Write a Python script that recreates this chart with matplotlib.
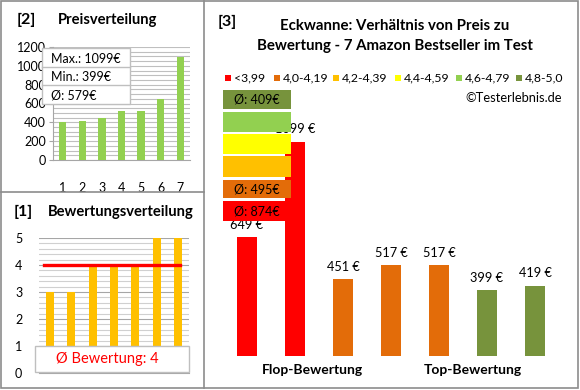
import matplotlib
matplotlib.use("Agg")
import matplotlib.pyplot as plt
from matplotlib.patches import Rectangle
from matplotlib.lines import Line2D
from matplotlib.ticker import MultipleLocator

plt.rcParams['font.family'] = ['Lato', 'DejaVu Sans']

# --- Daten ---
preise = [399, 419, 451, 517, 517, 649, 1099]
preis_labels = ["1", "2", "3", "4", "5", "6", "7"]
preis_info = ["Max.: 1099€", "Min.: 399€", "Ø: 579€"]

bewertungen = [3, 3, 4, 4, 4, 5, 5]
bewertung_schnitt = 4

haupt_preise = [649, 1099, 451, 517, 517, 399, 419]
haupt_farben = ["#FF0000", "#FF0000", "#E36C09", "#E36C09", "#E36C09", "#77933C", "#77933C"]
haupt_gruppen = ["Flop-Bewertung", "Top-Bewertung"]

legende_labels = ["<3,99", "4,0-4,19", "4,2-4,39", "4,4-4,59", "4,6-4,79", "4,8-5,0"]
legende_farben = ["#FF0000", "#E36C09", "#FFC000", "#FFFF00", "#92D050", "#77933C"]
schnitt_texte = ["Ø: 874€", "Ø: 495€", "", "", "", "Ø: 409€"]

W, H = 580, 390
fig = plt.figure(figsize=(W / 100, H / 100), dpi=100)


def fx(x):
    return x / W


def fy(y):
    return 1 - y / H


def box(x0, y0, x1, y1):
    return [fx(x0), fy(y1), fx(x1) - fx(x0), fy(y0) - fy(y1)]


grau = "#A6A6A6"

# Rahmen
fig.patches.append(Rectangle((fx(1), fy(388)), fx(577), fy(1) - fy(388), transform=fig.transFigure,
                             fill=False, edgecolor="#8C8C8C", lw=1.2))
fig.lines.append(Line2D([fx(204), fx(204)], [fy(1), fy(388)], transform=fig.transFigure, color="#8C8C8C", lw=1.2))
fig.lines.append(Line2D([fx(1), fx(204)], [fy(192), fy(192)], transform=fig.transFigure, color="#8C8C8C", lw=1.2))

# === [2] Preisverteilung ===
fig.text(fx(17), fy(20), "[2]", fontsize=11.5, fontweight="bold", va="center", ha="left")
fig.text(fx(58), fy(20), "Preisverteilung", fontsize=10.6, fontweight="bold", va="center", ha="left")

ax1 = fig.add_axes(box(53, 47, 190, 160))
x = list(range(1, 8))
ax1.bar(x, preise, width=0.37, color="#92D050", zorder=3)
ax1.set_xlim(0.5, 7.5)
ax1.set_ylim(0, 1200)
ax1.yaxis.set_major_locator(MultipleLocator(200))
ax1.yaxis.set_minor_locator(MultipleLocator(50))
ax1.grid(axis="y", which="both", color="#BFBFBF", lw=0.8, zorder=0)
ax1.set_xticks(x)
ax1.set_xticklabels(preis_labels)
ax1.tick_params(axis="x", length=0, pad=16, labelsize=9)
ax1.tick_params(axis="y", which="major", length=3, color=grau, labelsize=9, pad=2)
ax1.tick_params(axis="y", which="minor", length=0)
for s in ["top", "right"]:
    ax1.spines[s].set_visible(False)
for s in ["left", "bottom"]:
    ax1.spines[s].set_color(grau)

# Info-Box
fig.patches.append(Rectangle((fx(42), fy(104)), fx(130) - fx(42), fy(48) - fy(104), transform=fig.transFigure,
                             facecolor="white", edgecolor="#BFBFBF", lw=1, zorder=5))
for yy in [67, 85]:
    fig.lines.append(Line2D([fx(42), fx(130)], [fy(yy), fy(yy)], transform=fig.transFigure,
                            color="#BFBFBF", lw=1, zorder=6))
for t, yy in zip(preis_info, [59, 77, 95]):
    fig.text(fx(51), fy(yy), t, fontsize=9, va="center", ha="left", zorder=7)

# === [1] Bewertungsverteilung ===
fig.text(fx(14), fy(212), "[1]", fontsize=11.5, fontweight="bold", va="center", ha="left")
fig.text(fx(48), fy(212), "Bewertungsverteilung", fontsize=10.6, fontweight="bold", va="center", ha="left")

ax2 = fig.add_axes(box(39, 238, 189, 373))
ax2.bar(x, bewertungen, width=0.37, color="#FFC000", zorder=3)
ax2.plot([0.75, 7.1], [bewertung_schnitt, bewertung_schnitt], color="#FF0000", lw=2.4, zorder=4)
ax2.set_xlim(0.5, 7.5)
ax2.set_ylim(0, 5)
ax2.yaxis.set_major_locator(MultipleLocator(1))
ax2.yaxis.set_minor_locator(MultipleLocator(0.2))
ax2.grid(axis="y", which="minor", color="#D0D0D0", lw=0.8, zorder=0)
ax2.grid(axis="y", which="major", color="#A6A6A6", lw=0.8, zorder=1)
ax2.set_xticks([])
ax2.tick_params(axis="y", which="major", length=0, labelsize=9, pad=12)
ax2.tick_params(axis="y", which="minor", length=0)
for s in ["top", "right", "left"]:
    ax2.spines[s].set_visible(False)
ax2.spines["bottom"].set_color(grau)
ax2.add_patch(Rectangle((0.3, 0.05), 7.2, 0.95, facecolor="white", edgecolor="#BFBFBF", lw=1,
                        zorder=5, clip_on=False))
ax2.text(3.7, 0.52, "Ø Bewertung: " + str(bewertung_schnitt), color="#FF0000", fontsize=10.5,
         ha="center", va="center", zorder=6)

# === [3] Hauptdiagramm ===
fig.text(fx(218), fy(22), "[3]", fontsize=11.5, fontweight="bold", va="center", ha="left")
fig.text(fx(395), fy(26), "Eckwanne: Verhältnis von Preis zu", fontsize=10.8, fontweight="bold",
         va="center", ha="center")
fig.text(fx(395), fy(46), "Bewertung - 7 Amazon Bestseller im Test", fontsize=10.8, fontweight="bold",
         va="center", ha="center")

ax3 = fig.add_axes(box(223, 90, 559, 356))
pos = list(range(7))
bars = ax3.bar(pos, haupt_preise, width=0.4, color=haupt_farben, zorder=3)
ax3.set_xlim(-0.5, 6.5)
ax3.set_ylim(88, 1343)
for b, v in zip(bars, haupt_preise):
    ax3.annotate(f"{v} €", (b.get_x() + b.get_width() / 2, v), xytext=(0, 9),
                 textcoords="offset points", ha="center", va="center", fontsize=9.2)
ax3.axis("off")

fig.text(fx(312), fy(370), haupt_gruppen[0], fontsize=10, fontweight="bold", ha="center", va="center")
fig.text(fx(473), fy(370), haupt_gruppen[1], fontsize=10, fontweight="bold", ha="center", va="center")

# Legende oben
quad_x = [228, 277, 336, 398, 459, 519]
for qx, lab, col in zip(quad_x, legende_labels, legende_farben):
    fig.patches.append(Rectangle((fx(qx - 3), fy(81)), fx(6), fy(75) - fy(81), transform=fig.transFigure,
                                 facecolor=col, edgecolor="none"))
    fig.text(fx(qx + 6), fy(78), lab, fontsize=8.8, ha="left", va="center")

fig.text(fx(562), fy(98), "©Testerlebnis.de", fontsize=9.3, ha="right", va="center")

# Durchschnitts-Kaesten links
kasten_y = [(201, 221), (180, 198), (156, 177), (134, 154), (112, 132), (90, 109)]
for (y0, y1), col, t in zip(kasten_y, legende_farben, schnitt_texte):
    fig.patches.append(Rectangle((fx(223), fy(y1)), fx(291) - fx(223), fy(y0) - fy(y1),
                                 transform=fig.transFigure, facecolor=col, edgecolor="none", zorder=5))
    if t:
        fig.text(fx(257), fy((y0 + y1) / 2), t, fontsize=9, ha="center", va="center", zorder=6)

fig.savefig("out.png", dpi=100)
